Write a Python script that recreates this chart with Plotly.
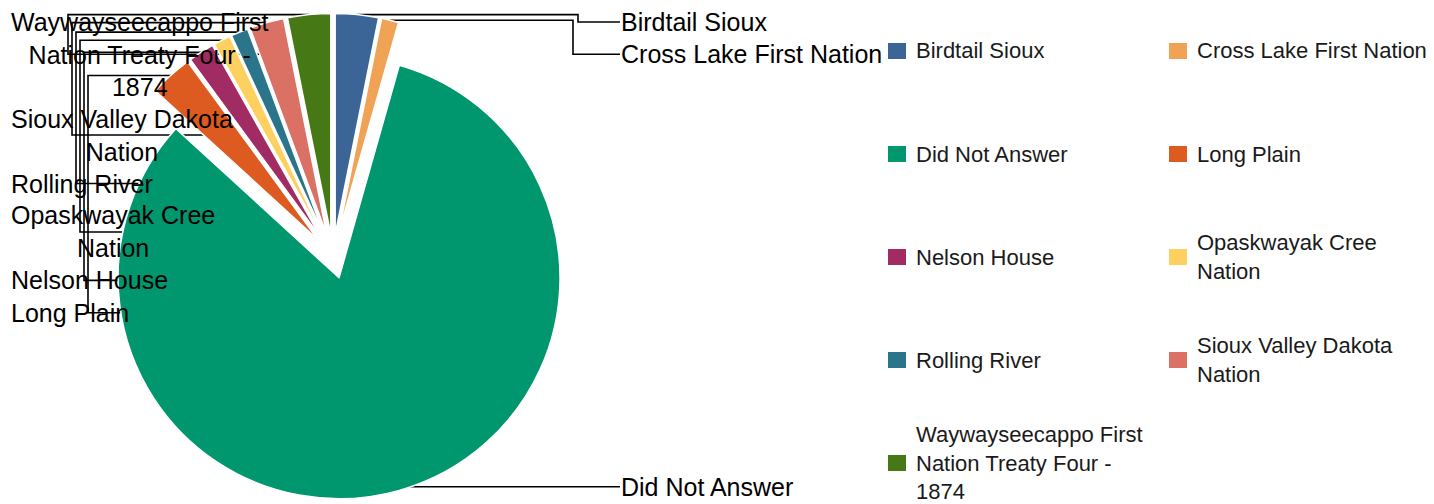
import math
import plotly.graph_objects as go

# Respondents by First Nation (counts)
labels = ['Birdtail Sioux', 'Cross Lake First Nation', 'Did Not Answer', 'Long Plain',
          'Nelson House', 'Opaskwayak Cree Nation', 'Rolling River',
          'Sioux Valley Dakota Nation', 'Waywayseecappo First Nation Treaty Four - 1874']
counts = [5, 2, 131, 5, 3, 2, 2, 4, 5]
colors = ['#3b6597', '#f0a354', '#00966e', '#dd5a20', '#a12c63',
          '#fdd060', '#2a7589', '#db7065', '#477816']

W, H = 1434, 504
CX, CY, R = 333, 256.5, 221   # pie centre / radius in pixels
PULL = 0.1
FONT = 'Arial, "Liberation Sans", sans-serif'
LBL_SIZE, LEG_SIZE = 25, 22

# Arial / Liberation Sans advance widths (1/1000 em) for wrapping the labels
CHAR_W = {' ': 278, '-': 333, '1': 556, '4': 556, '7': 556, '8': 556,
          'A': 667, 'B': 667, 'C': 722, 'D': 722, 'F': 611, 'H': 722, 'L': 556,
          'N': 722, 'O': 778, 'P': 667, 'R': 722, 'S': 667, 'T': 611, 'V': 667, 'W': 944,
          'a': 556, 'b': 556, 'c': 500, 'd': 556, 'e': 556, 'f': 278, 'g': 556, 'h': 556,
          'i': 222, 'k': 500, 'l': 222, 'm': 833, 'n': 556, 'o': 556, 'p': 556, 'r': 333,
          's': 500, 't': 278, 'u': 556, 'v': 500, 'w': 722, 'x': 500, 'y': 500, 'z': 500}


def text_w(s, size):
    return sum(CHAR_W.get(c, 556) for c in s) * size / 1000


def wrap(s, size, maxw):
    lines, cur = [], ''
    for word in s.split(' '):
        t = (cur + ' ' + word).strip()
        if cur and text_w(t, size) > maxw:
            lines.append(cur)
            cur = word
        else:
            cur = t
    lines.append(cur)
    return lines


def px(x):
    return x / W


def py(y):
    return 1 - y / H


# pie domain so that plotly's radius (box / (2 + 2*pull)) comes out as R
half = R * (1 + PULL)
dom_x = [px(CX - half), px(CX + half)]
dom_y = [py(CY + half), py(CY - half)]

fig = go.Figure(go.Pie(
    labels=labels, values=counts, sort=False, direction='clockwise', rotation=0,
    pull=PULL, textinfo='none', hoverinfo='label+value+percent',
    marker=dict(colors=colors, line=dict(color='white', width=1.5)),
    domain=dict(x=dom_x, y=dom_y),
))

# mid angle of every slice (clockwise from 12 o'clock)
total = sum(counts)
mids, acc = [], 0
for v in counts:
    mids.append(math.radians((acc + v / 2) / total * 360))
    acc += v

right = [i for i in range(len(counts)) if math.sin(mids[i]) >= 0]
left = [i for i in reversed(range(len(counts))) if math.sin(mids[i]) < 0]

annotations, shapes = [], []
LH = 32.3
for side, order in (('right', right), ('left', left)):
    y_next = 22
    for k, i in enumerate(order):
        ox = CX + R * (1 + PULL) * math.sin(mids[i])
        oy = CY - R * (1 + PULL) * math.cos(mids[i])
        lines = wrap(labels[i], LBL_SIZE, 280)
        n = len(lines)
        yc = y_next + (n - 1) * LH / 2
        stacked = True
        if oy + 3 > yc:
            # label sits next to its slice, kept inside the bottom edge
            yc, stacked = min(oy + 3, H - LBL_SIZE * 1.3 / 2 - 1), False
        y_next = yc + (n - 1) * LH / 2 + LH

        if side == 'right':
            tx = 620
            chan = 578 - 5 * k if stacked else ox
            path = f'M {px(ox)} {py(oy)} H {px(chan)} V {py(yc)} H {px(tx)}'
        else:
            tx = 10
            bw = max(text_w(t, LBL_SIZE) for t in lines)
            chan = 68 + 4 * k
            path = f'M {px(ox)} {py(oy)} H {px(chan)} V {py(yc)} H {px(tx + bw + 6)}'
        shapes.append(dict(type='path', path=path, xref='paper', yref='paper',
                           line=dict(color='black', width=1.6), layer='below'))
        annotations.append(dict(
            x=px(tx), y=py(yc), xref='paper', yref='paper', xanchor='left', yanchor='middle',
            text='<br>'.join(lines), showarrow=False, align='center', borderpad=0,
            font=dict(family=FONT, size=LBL_SIZE, color='black')))

# two-column legend
for i, lab in enumerate(labels):
    row, col = divmod(i, 2)
    yc = 51 + 103 * row
    x0 = 888 + 281 * col
    shapes.append(dict(type='rect', xref='paper', yref='paper',
                       x0=px(x0), x1=px(x0 + 18), y0=py(yc + 8), y1=py(yc - 8),
                       fillcolor=colors[i], line=dict(width=0)))
    annotations.append(dict(
        x=px(x0 + 27), y=py(yc), xref='paper', yref='paper', xanchor='left', yanchor='middle',
        text='<br>'.join(wrap(lab, LEG_SIZE, 245)), showarrow=False, align='left', borderpad=0,
        font=dict(family=FONT, size=LEG_SIZE, color='#1a1a1a')))

fig.update_layout(
    width=W, height=H,
    margin=dict(l=0, r=0, t=0, b=0),
    paper_bgcolor='white', plot_bgcolor='white',
    showlegend=False,
    shapes=shapes,
    annotations=annotations,
)

# drop the default 8px page margin so the figure sits at the window's corner
fig.write_html('out.html', config={'displayModeBar': False},
               post_script="document.body.style.margin='0px';")
